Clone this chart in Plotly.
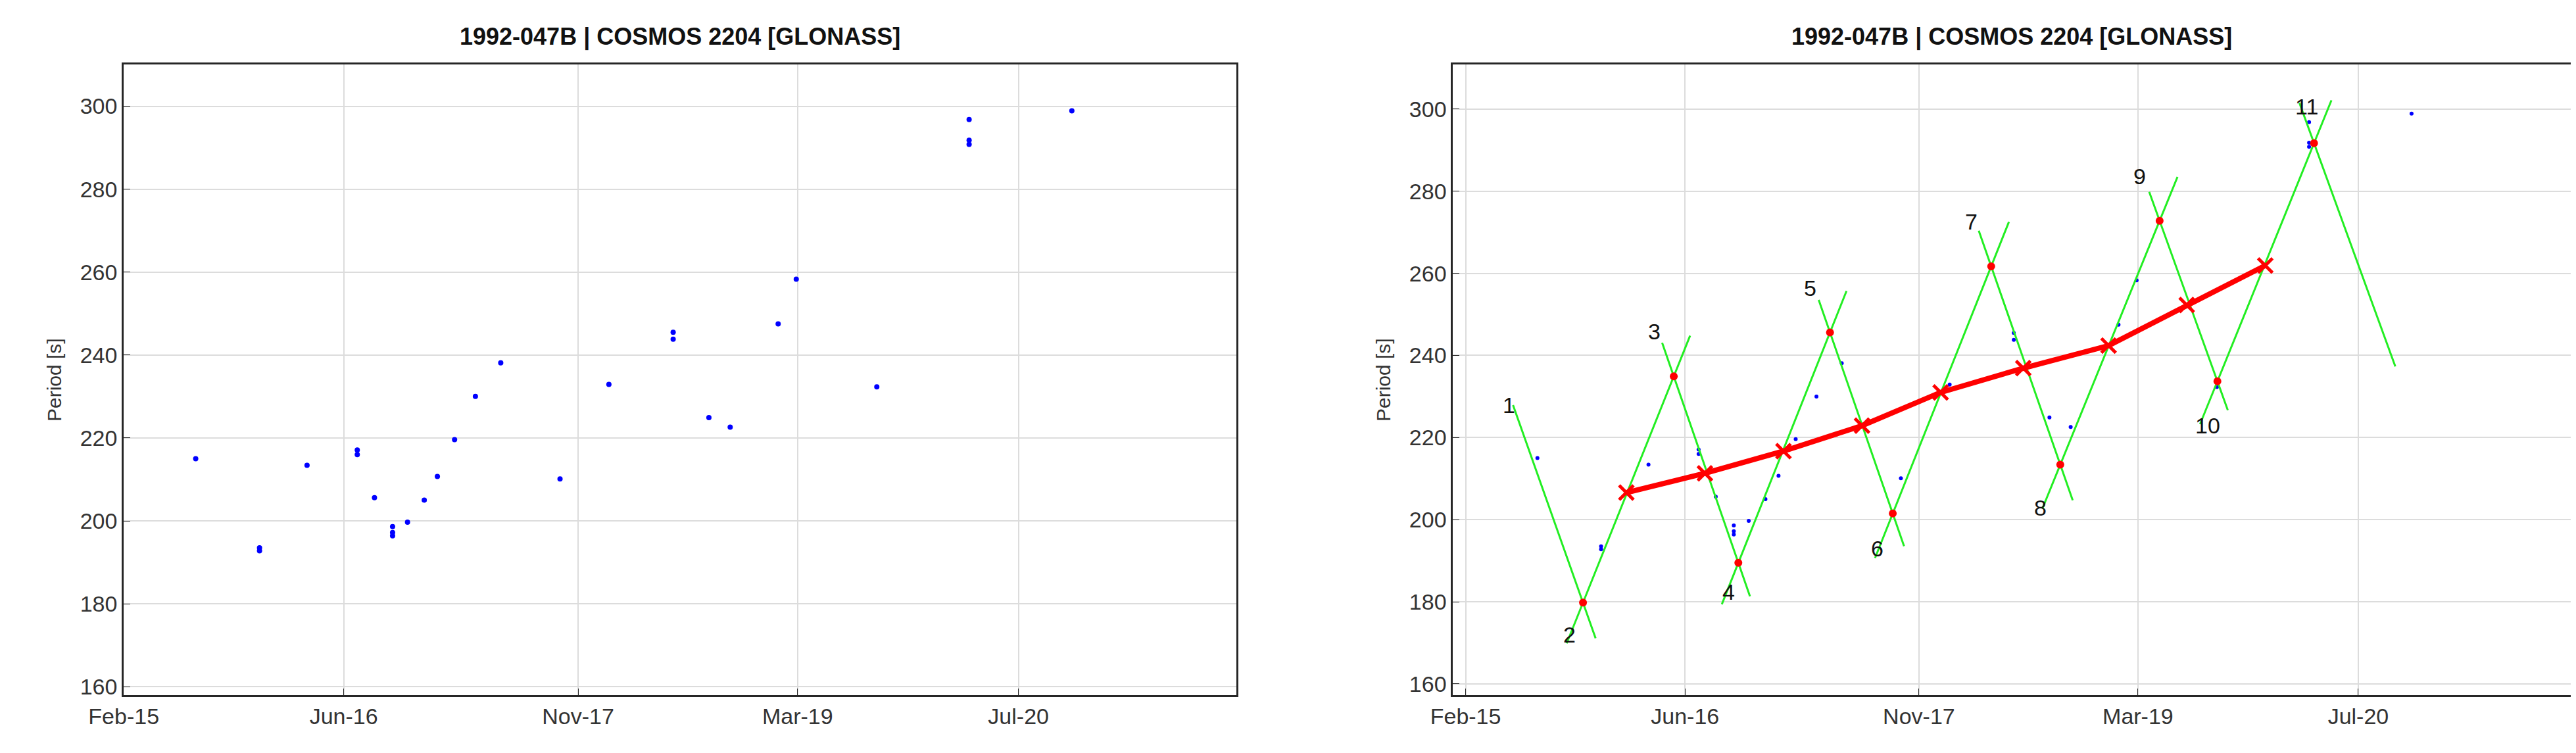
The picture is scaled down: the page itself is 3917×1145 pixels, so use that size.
import plotly.graph_objects as go
import pandas as pd

title = "1992-047B | COSMOS 2204 [GLONASS]"
obs_dates = ["2015-07-10","2015-11-28","2015-11-28","2016-03-12","2016-07-01","2016-07-01","2016-08-08",
             "2016-09-17","2016-09-17","2016-09-17","2016-10-20","2016-11-26","2016-12-25","2017-02-01",
             "2017-03-19","2017-05-14","2017-09-22","2018-01-08","2018-05-30","2018-05-30","2018-08-17",
             "2018-10-03","2019-01-17","2019-02-26","2019-08-23","2020-03-14","2020-03-14","2020-03-14","2020-10-27"]
obs_period = [215.0,193.5,192.8,213.4,217.1,216.0,205.6,198.6,197.2,196.4,199.7,205.0,210.7,219.6,
              230.0,238.1,210.1,232.9,245.5,243.8,224.9,222.6,247.5,258.3,232.3,296.8,291.8,290.8,298.9]

trend_dates = ["2016-01-23","2016-07-15","2017-01-05","2017-06-28","2017-12-19","2018-06-20","2018-12-26","2019-06-17","2019-12-08"]
trend_period = [206.6,211.3,216.7,222.9,231.0,236.9,242.4,252.3,261.9]

ext_labels = ["1","2","3","4","5","6","7","8","9","10","11",""]
ext_dates = ["2015-05-17","2015-10-19","2016-05-07","2016-09-27","2017-04-18","2017-09-04","2018-04-10",
             "2018-09-10","2019-04-18","2019-08-24","2020-03-25","2020-09-21"]
ext_period = [227.9,179.8,234.9,189.5,245.6,201.5,261.7,213.4,272.8,233.7,291.7,237.3]
label_dx = [-6,-21,-30,-15,-30,-24,-30,-30,-30,-15,-11,0]
label_dy = [0,49,-68,44,-68,53,-68,65,-68,67,-56,0]

tick_vals = ["2015-02-01","2016-06-01","2017-11-01","2019-03-01","2020-07-01"]
tick_text = ["Feb-15","Jun-16","Nov-17","Mar-19","Jul-20"]
y_ticks = [160,180,200,220,240,260,280,300]

FONT = "Liberation Sans, Arial, sans-serif"
fig = go.Figure()
fig.add_trace(go.Scatter(x=obs_dates, y=obs_period, mode="markers", marker=dict(color="#0000ff", size=8),
                         xaxis="x", yaxis="y", showlegend=False))
fig.add_trace(go.Scatter(x=obs_dates, y=obs_period, mode="markers", marker=dict(color="#0000ff", size=6),
                         xaxis="x2", yaxis="y2", showlegend=False))

ed = pd.to_datetime(ext_dates)
ext = 0.18
for i in range(len(ed) - 1):
    t0, t1 = ed[i], ed[i+1]
    p0, p1 = ext_period[i], ext_period[i+1]
    a = 0 if i == 0 else -ext
    b = 1 if i == len(ed) - 2 else 1 + ext
    xs = [t0 + (t1 - t0) * a, t0 + (t1 - t0) * b]
    ys = [p0 + (p1 - p0) * a, p0 + (p1 - p0) * b]
    fig.add_trace(go.Scatter(x=xs, y=ys, mode="lines", line=dict(color="#22ee22", width=3),
                             xaxis="x2", yaxis="y2", showlegend=False))
fig.add_trace(go.Scatter(x=ext_dates[1:-1], y=ext_period[1:-1], mode="markers",
                         marker=dict(color="#ff0000", size=12), xaxis="x2", yaxis="y2", showlegend=False))
fig.add_trace(go.Scatter(x=trend_dates, y=trend_period, mode="lines+markers",
                         line=dict(color="#ff0000", width=8),
                         marker=dict(symbol="x-thin", size=22, line=dict(color="#ff0000", width=5)),
                         xaxis="x2", yaxis="y2", showlegend=False))
for lab, d, p, dx, dy in zip(ext_labels, ext_dates, ext_period, label_dx, label_dy):
    if lab:
        fig.add_annotation(x=d, y=p, xref="x2", yref="y2", text=lab, showarrow=False,
                           xshift=dx, yshift=-dy, font=dict(size=34, color="#111111", family=FONT))

ax_common = dict(showline=True, linecolor="#262626", linewidth=3, mirror=True, ticks="inside",
                 ticklen=10, tickcolor="#262626", showgrid=True, gridcolor="#dcdcdc", gridwidth=2,
                 tickfont=dict(size=34, color="#333333", family=FONT), zeroline=False, automargin=False)
ytitle = dict(text="Period [s]", font=dict(size=30, color="#333333", family=FONT), standoff=20)
fig.update_layout(
    width=3917, height=1145, plot_bgcolor="white", paper_bgcolor="white",
    margin=dict(l=0, r=0, t=0, b=0),
    xaxis=dict(domain=[0.046, 0.478], range=["2015-02-01", "2021-10-26"], tickvals=tick_vals,
               ticktext=tick_text, anchor="y", **ax_common),
    yaxis=dict(domain=[0.084, 0.921], range=[158, 310], tickvals=y_ticks, anchor="x",
               title=ytitle, **ax_common),
    xaxis2=dict(domain=[0.562, 0.996], range=["2015-01-04", "2021-10-15"], tickvals=tick_vals,
                ticktext=tick_text, anchor="y2", **ax_common),
    yaxis2=dict(domain=[0.084, 0.921], range=[157.3, 310.8], tickvals=y_ticks, anchor="x2",
                title=ytitle, **ax_common),
)
for xc in [0.262, 0.779]:
    fig.add_annotation(x=xc, y=0.958, xref="paper", yref="paper", text="<b>" + title + "</b>",
                       xanchor="center", yanchor="middle",
                       showarrow=False, font=dict(size=36, color="#111111", family=FONT))
fig.write_html("out.html")
